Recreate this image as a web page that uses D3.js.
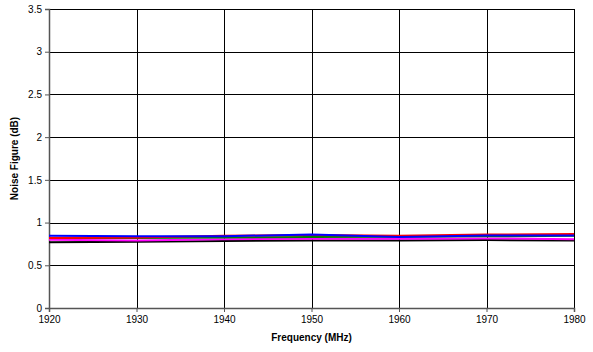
<!DOCTYPE html>
<html>
<head>
<meta charset="utf-8">
<script src="https://cdn.jsdelivr.net/npm/d3@7"></script>
<style>
  body { margin: 0; background: #fff; }
  text { font-family: "Liberation Sans", Arial, sans-serif; }
</style>
</head>
<body>
<div id="chart"></div>
<script>
// frequency points (MHz)
const freqs = [1920, 1930, 1940, 1950, 1960, 1970, 1980];
// noise figure per trace (dB)
const blackNF   = [0.77, 0.775, 0.785, 0.79, 0.79, 0.795, 0.79];
const magentaNF = [0.80, 0.79, 0.805, 0.81, 0.81, 0.815, 0.805];
const greenNF   = [0.82, 0.82, 0.825, 0.83, 0.835, 0.84, 0.845];
const redNF     = [0.82, 0.825, 0.845, 0.855, 0.845, 0.86, 0.865];
const blueNF    = [0.845, 0.84, 0.84, 0.86, 0.83, 0.85, 0.85];
const xTicks = [1920, 1930, 1940, 1950, 1960, 1970, 1980];
const yTicks = [0, 0.5, 1, 1.5, 2, 2.5, 3, 3.5];

const series = [
  { name: "black", values: blackNF, color: "#000000" },
  { name: "magenta", values: magentaNF, color: "#ff00ff" },
  { name: "green", values: greenNF, color: "#008000" },
  { name: "red", values: redNF, color: "#ff0000" },
  { name: "blue", values: blueNF, color: "#0000ff" }
];

const W = 593, H = 352;
const margin = { top: 9, right: 19, bottom: 44, left: 49 };
const width = W - margin.left - margin.right;
const height = H - margin.top - margin.bottom;

const svg = d3.select("#chart").append("svg")
  .attr("width", W).attr("height", H);
const g = svg.append("g")
  .attr("transform", "translate(" + margin.left + "," + margin.top + ")");

const x = d3.scaleLinear().domain([1920, 1980]).range([0, width]);
const y = d3.scaleLinear().domain([0, 3.5]).range([height, 0]);

// grid
g.append("g").selectAll("line").data(yTicks.slice(1)).enter().append("line")
  .attr("x1", 0).attr("x2", width)
  .attr("y1", d => Math.round(y(d)) + 0.5).attr("y2", d => Math.round(y(d)) + 0.5)
  .attr("stroke", "#000").attr("stroke-width", 1);
g.append("g").selectAll("line").data(xTicks.slice(1)).enter().append("line")
  .attr("x1", d => Math.round(x(d)) + 0.5).attr("x2", d => Math.round(x(d)) + 0.5)
  .attr("y1", 0).attr("y2", height)
  .attr("stroke", "#000").attr("stroke-width", 1);

// axes
const xAxis = g.append("g")
  .attr("transform", "translate(0," + height + ")")
  .call(d3.axisBottom(x).tickValues(xTicks).tickFormat(d3.format("d")).tickSize(4).tickPadding(4));
const yAxis = g.append("g")
  .call(d3.axisLeft(y).tickValues(yTicks).tickFormat(d => d).tickSize(4).tickPadding(3));
[xAxis, yAxis].forEach(a => {
  a.selectAll("path, line").attr("stroke", "#555");
  a.select(".domain").attr("stroke-width", 1.5);
  a.selectAll("text").attr("font-size", 10).attr("fill", "#000")
    .attr("font-family", "'Liberation Sans', Arial, sans-serif");
});

// lines
const line = d3.line()
  .x((d, i) => x(freqs[i]))
  .y(d => y(d));
g.append("g").selectAll("path").data(series).enter().append("path")
  .attr("d", d => line(d.values))
  .attr("fill", "none")
  .attr("stroke", d => d.color)
  .attr("stroke-width", 2);

// titles
svg.append("text")
  .attr("x", margin.left + width / 2).attr("y", 341)
  .attr("text-anchor", "middle").attr("font-size", 10).attr("font-weight", "bold")
  .text("Frequency (MHz)");
svg.append("text")
  .attr("transform", "translate(18," + (margin.top + height / 2) + ") rotate(-90)")
  .attr("text-anchor", "middle").attr("font-size", 10).attr("font-weight", "bold")
  .text("Noise Figure (dB)");
</script>
</body>
</html>
